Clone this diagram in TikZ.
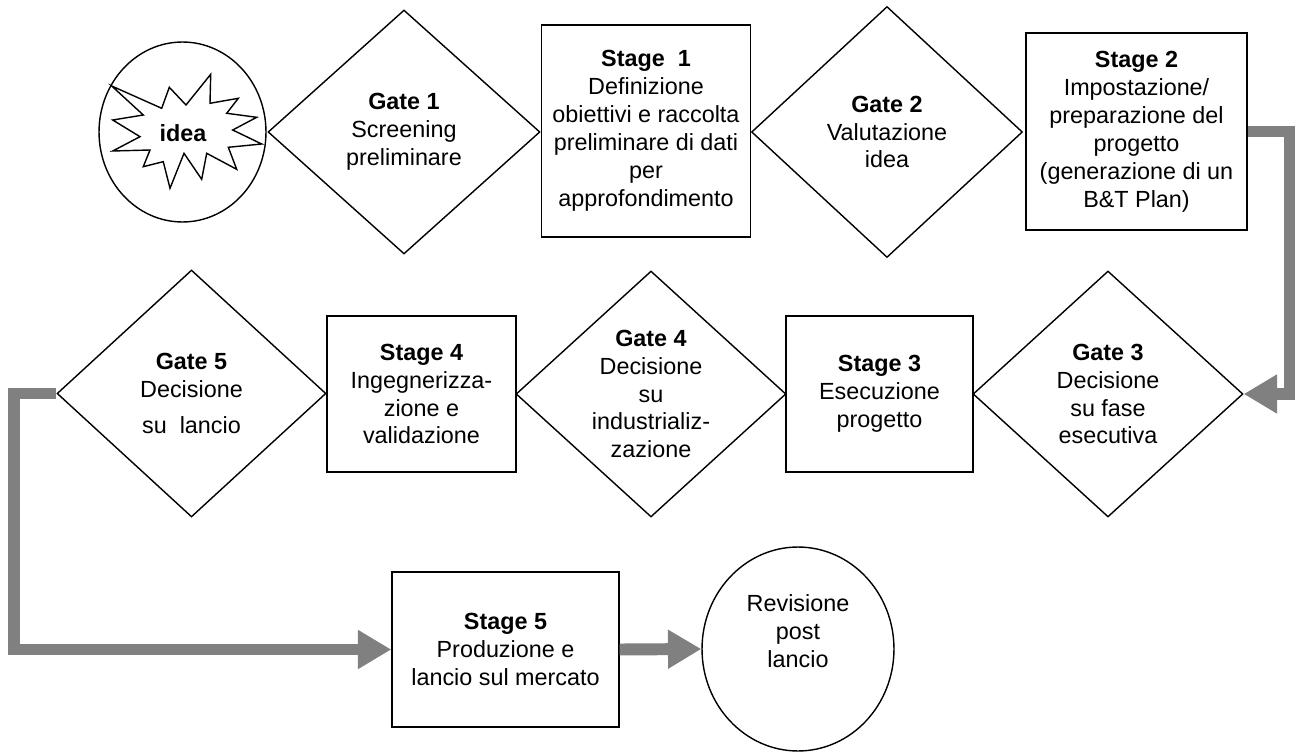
\documentclass[tikz,border=0pt]{standalone}
\usepackage{fontspec}
\setmainfont{Liberation Sans}
\usetikzlibrary{shapes.geometric, arrows.meta, positioning}

\begin{document}
\begin{tikzpicture}[x=0.02cm, y=-0.02cm,
    every node/.style={align=center, font=\fontsize{13.3}{15.9}\selectfont},
    gate/.style={draw, diamond, aspect=1.1, inner sep=0pt, line width=.8pt},
    stagebox/.style={draw, rectangle, inner sep=0pt, line width=.8pt},
    flow/.style={color=black!50, line width=6.8pt, -{Triangle[length=19pt, width=21pt]}}]
  \useasboundingbox (0,0) rectangle (1295,753);
  % idea
  \node[draw, ellipse, line width=.8pt, minimum width=3.34cm, minimum height=3.6cm] (ideacirc) at (182.5,132) {};
  \draw[line width=.8pt] (111.7,86) -- (161.7,108.3) -- (169.3,87.3) -- (186,105) -- (210.7,74.3) -- (210,103.3)
    -- (238.3,98.3) -- (226.7,113.3) -- (256.7,117.3) -- (232.7,130) -- (261.7,144) -- (228.3,147.3)
    -- (236.7,169.3) -- (206.7,153.3) -- (201.7,179.3) -- (184,153.3) -- (170,188.3) -- (163.3,161.7)
    -- (143.3,166.7) -- (150,150) -- (112.7,151) -- (140,136.7) -- (112.7,120) -- (143.3,115) -- cycle;
  \node (idea) at (183,133) {\textbf{idea}};
  % first row
  \node[gate, minimum width=5.44cm, minimum height=4.88cm] (g1) at (404,132) {\textbf{Gate 1}\\Screening\\preliminare};
  \node[stagebox, minimum width=4.18cm, minimum height=4.24cm] (s1) at (646,131) {\textbf{Stage\ \ 1}\\Definizione\\obiettivi e raccolta\\preliminare di dati\\per\\approfondimento};
  \node[gate, minimum width=5.42cm, minimum height=5.02cm] (g2) at (887,132) {\textbf{Gate 2}\\Valutazione\\idea};
  \node[stagebox, minimum width=4.42cm, minimum height=3.94cm] (s2) at (1136.5,131.5) {\textbf{Stage 2}\\Impostazione/\\preparazione del\\progetto\\(generazione di un\\B\&T Plan)};
  % second row
  \node[gate, minimum width=5.38cm, minimum height=4.94cm] (g5) at (191.5,393.5) {\textbf{Gate 5}\\Decisione\\[5pt]su\ \ lancio};
  \node[stagebox, minimum width=3.78cm, minimum height=3.12cm] (s4) at (421.5,394) {\textbf{Stage 4}\\Ingegnerizza-\\zione e\\validazione};
  \node[gate, minimum width=5.4cm, minimum height=4.92cm] (g4) at (651,394) {\textbf{Gate 4}\\Decisione\\su\\industrializ-\\zazione};
  \node[stagebox, minimum width=3.74cm, minimum height=3.12cm] (s3) at (879.5,394) {\textbf{Stage 3}\\Esecuzione\\progetto};
  \node[gate, minimum width=5.4cm, minimum height=4.92cm] (g3) at (1108,394) {\textbf{Gate 3}\\Decisione\\su fase\\esecutiva};
  % third row
  \node[stagebox, minimum width=4.54cm, minimum height=3.1cm] (s5) at (505.5,649.5) {\textbf{Stage 5}\\Produzione e\\lancio sul mercato};
  \node[draw, ellipse, line width=.8pt, minimum width=3.84cm, minimum height=4.08cm] (rev) at (798,649) {};
  \node (revtext) at ([yshift=10pt]rev.center) {Revisione\\post\\lancio};
  % flows
  \draw[flow] (s2.east) -- ++(42,0) |- (g3.east);
  \draw[flow] (g5.west) -- ++(-42,0) |- (s5.west);
  \draw[flow] (s5.east) -- (rev.west);
\end{tikzpicture}
\end{document}
